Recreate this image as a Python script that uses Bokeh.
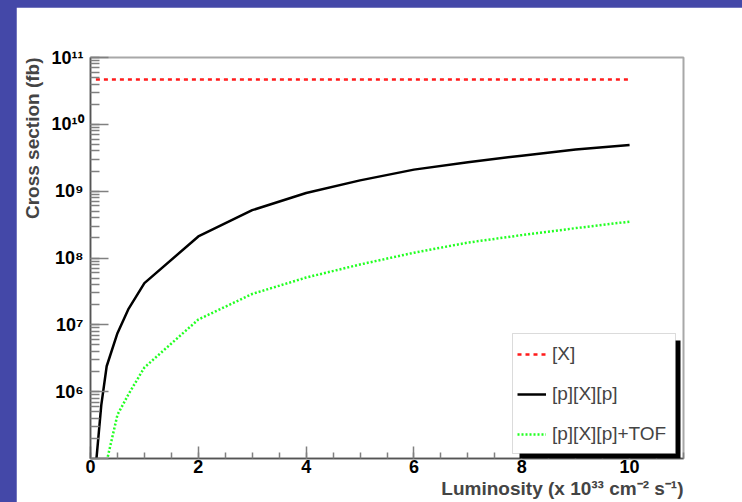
from bokeh.plotting import figure
from bokeh.models import (SingleIntervalTicker, LogTicker, Title, Legend, LegendItem,
                          BoxAnnotation, ColumnDataSource)
from bokeh.layouts import column
from bokeh.embed import file_html
from bokeh.resources import INLINE

# ---- data ----
lumi = [0.1, 0.2, 0.3, 0.5, 0.7, 1, 2, 3, 4, 5, 6, 7, 8, 9, 10]
xsec_X = [4.7e10] * len(lumi)
xsec_pXp = [8e4, 6.3e5, 2.4e6, 7.5e6, 1.7e7, 4.2e7, 2.1e8, 5.2e8, 9.4e8,
            1.45e9, 2.1e9, 2.7e9, 3.4e9, 4.2e9, 4.9e9]
xsec_pXp_tof = [1e3, 1e4, 9e4, 4.5e5, 9e5, 2.3e6, 1.2e7, 2.9e7, 5.1e7,
                8e7, 1.2e8, 1.7e8, 2.2e8, 2.8e8, 3.5e8]

series_labels = ["[X]", "[p][X][p]", "[p][X][p]+TOF"]
y_tick_labels = {1e5: "", 1e6: "10\u2076", 1e7: "10\u2077", 1e8: "10\u2078",
                 1e9: "10\u2079", 1e10: "10\u00b9\u2070", 1e11: "10\u00b9\u00b9"}
x_title = "Luminosity (x 10\u00b3\u00b3 cm\u207b\u00b2 s\u207b\u00b9)"
y_title = "Cross section (fb)"

src = ColumnDataSource(dict(lumi=lumi, x=xsec_X, pxp=xsec_pXp, tof=xsec_pXp_tof))

FONT = "Liberation Sans"

p = figure(width=726, height=495, x_range=(0, 11), y_range=(1e5, 1e11),
           y_axis_type="log", output_backend="svg", toolbar_location=None,
           min_border_left=74, min_border_right=59, min_border_top=50,
           min_border_bottom=44, background_fill_color="white",
           border_fill_color="white")
p.margin = (7, 0, 0, 16)

p.xgrid.visible = False
p.ygrid.visible = False
p.outline_line_color = "#a8a8a8"
p.outline_line_width = 2

# axes
p.xaxis.ticker = SingleIntervalTicker(interval=2, num_minor_ticks=4)
p.yaxis.ticker = LogTicker(num_minor_ticks=10)
p.yaxis.major_label_overrides = y_tick_labels

for ax in (p.xaxis, p.yaxis):
    ax.axis_line_color = "#555555"
    ax.axis_line_width = 1.5
    ax.major_tick_line_color = "#808080"
    ax.minor_tick_line_color = "#808080"
    ax.major_tick_line_width = 1.5
    ax.minor_tick_line_width = 1.5
    ax.major_tick_out = 0
    ax.minor_tick_out = 0
    ax.major_label_text_font = FONT
    ax.major_label_text_font_style = "bold"
    ax.major_label_text_font_size = "18px"
    ax.major_label_text_color = "black"

p.xaxis.major_tick_in = 12
p.xaxis.minor_tick_in = 6
p.xaxis.major_label_standoff = 1
p.yaxis.major_tick_in = 18
p.yaxis.minor_tick_in = 9
p.yaxis.major_label_standoff = 7

# curves
r_x = p.line("lumi", "x", source=src, line_color="#ff1a1a", line_width=2.5,
             line_dash="4 4")
r_pxp = p.line("lumi", "pxp", source=src, line_color="black", line_width=2.5)
r_tof = p.line("lumi", "tof", source=src, line_color="#22ff22", line_width=2.5,
               line_dash="2 2")

# axis titles
ty = Title(text=y_title, align="right", vertical_align="top", text_font=FONT,
           text_font_style="bold", text_font_size="19px", standoff=8)
p.add_layout(ty, "left")
tx = Title(text=x_title, align="right", text_font=FONT, text_font_style="bold",
           text_font_size="19px", standoff=0)
p.add_layout(tx, "below")

# legend frame + shadow (screen units relative to the plot frame)
shadow = BoxAnnotation(left=429, right=590, bottom=0, top=118,
                       left_units="screen", right_units="screen",
                       bottom_units="screen", top_units="screen",
                       fill_color="black", fill_alpha=1.0, line_color=None)
p.add_layout(shadow)
lbox = BoxAnnotation(left=422, right=585, bottom=5, top=125,
                     left_units="screen", right_units="screen",
                     bottom_units="screen", top_units="screen",
                     fill_color="white", fill_alpha=1.0, line_color="#888888",
                     line_width=1)
p.add_layout(lbox)

legend = Legend(items=[LegendItem(label=series_labels[0], renderers=[r_x]),
                       LegendItem(label=series_labels[1], renderers=[r_pxp]),
                       LegendItem(label=series_labels[2], renderers=[r_tof])],
                location=(427, 10), padding=6, spacing=12, glyph_height=28,
                label_height=28, glyph_width=29, label_standoff=6,
                label_width=110, label_text_font=FONT,
                label_text_font_size="19px", border_line_color=None,
                background_fill_alpha=0.0, margin=0)
p.add_layout(legend)

page = column(p, styles={"background-color": "#4448a8"})

open("out.html", "w").write(file_html(page, INLINE))
